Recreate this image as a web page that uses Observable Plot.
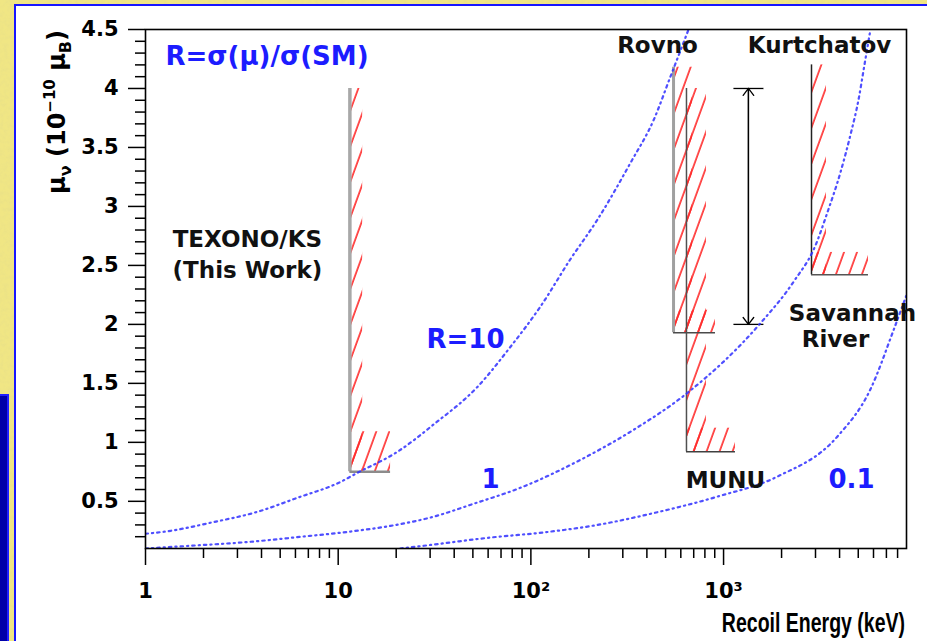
<!DOCTYPE html>
<html>
<head>
<meta charset="utf-8">
<script src="https://cdn.jsdelivr.net/npm/d3@7"></script>
<script src="https://cdn.jsdelivr.net/npm/@observablehq/plot@0.6"></script>
<style>
html, body { margin: 0; padding: 0; width: 927px; height: 641px; overflow: hidden; }
body {
  position: relative;
  background-color: #f0e684;
  background-image: url("data:image/svg+xml;utf8,<svg xmlns='http://www.w3.org/2000/svg' width='240' height='240'><filter id='n'><feTurbulence type='fractalNoise' baseFrequency='0.25' numOctaves='3' seed='4'/><feColorMatrix values='0 0 0 0 0.78  0 0 0 0 0.72  0 0 0 0 0.25  0 0 0 0.9 -0.35'/></filter><rect width='100%' height='100%' filter='url(%23n)'/></svg>");
}
#panel { position: absolute; left: 14px; top: 4px; width: 960px; height: 680px; background: #ffffff;
  border-left: 2px solid #1616ff; border-top: 2px solid #1616ff; }
#bluebox { position: absolute; left: -4px; top: 394px; width: 9px; height: 280px; background: #0000a8;
  border: 2px solid #2020ff; }
#chart { position: absolute; left: 0; top: 0; }
</style>
</head>
<body>
<div id="panel"></div>
<div id="bluebox"></div>
<svg width="0" height="0" style="position:absolute">
  <defs>
    <pattern id="hatch" patternUnits="userSpaceOnUse" width="12.2" height="12" patternTransform="rotate(20)">
      <line x1="1" y1="-1" x2="1" y2="13" stroke="#ff2a2a" stroke-width="1.6"/>
    </pattern>
  </defs>
</svg>
<div id="chart"></div>
<script>
// ---- Axis ticks ----
const xMajor = [1, 10, 100, 1000];
const xTickLabels = ["1", "10", "10²", "10³"];
const xMinor = [2, 3, 4, 5, 6, 7, 8, 9, 20, 30, 40, 50, 60, 70, 80, 90,
  200, 300, 400, 500, 600, 700, 800, 900, 2000, 3000, 4000, 5000, 6000, 7000, 8000];
const yMajor = [0.5, 1, 1.5, 2, 2.5, 3, 3.5, 4, 4.5];
const yTickLabels = ["0.5", "1", "1.5", "2", "2.5", "3", "3.5", "4", "4.5"];
const yMinor = [0.2, 0.3, 0.4, 0.6, 0.7, 0.8, 0.9, 1.1, 1.2, 1.3, 1.4, 1.6, 1.7, 1.8, 1.9,
  2.1, 2.2, 2.3, 2.4, 2.6, 2.7, 2.8, 2.9, 3.1, 3.2, 3.3, 3.4, 3.6, 3.7, 3.8, 3.9, 4.1, 4.2, 4.3, 4.4];

// ---- R = sigma(mu)/sigma(SM) iso-curves (recoil energy keV, mu in 1e-10 muB) ----
const r10Energy = [1, 1.35, 2.17, 3.81, 6.15, 10.3, 12.6, 20.3, 31.2, 52.8, 78.4, 112, 160, 222, 329, 433, 530, 658];
const r10Mu     = [0.225, 0.25, 0.318, 0.411, 0.53, 0.665, 0.742, 0.92, 1.15, 1.47, 1.81, 2.15, 2.55, 2.89, 3.37, 3.73, 4.10, 4.5];
const r1Energy  = [1, 1.71, 3.51, 6.37, 11.2, 18.7, 31.2, 50.4, 88.3, 181, 341, 650, 1554, 2306, 3000, 3460, 4045, 4560, 5010, 5385, 5785];
const r1Mu      = [0.1, 0.123, 0.157, 0.199, 0.241, 0.292, 0.369, 0.479, 0.615, 0.852, 1.106, 1.42, 2.01, 2.36, 2.67, 2.95, 3.29, 3.61, 3.90, 4.20, 4.50];
const r01Energy = [21, 30.1, 59.5, 122, 222, 433, 930, 1905, 3900, 5785, 7620, 9000];
const r01Mu     = [0.1, 0.13, 0.19, 0.24, 0.30, 0.40, 0.54, 0.71, 1.05, 1.45, 1.95, 2.27];

// ---- Experimental limits ----
const limitNames   = ["TEXONO/KS", "Rovno", "MUNU", "Kurtchatov"];
const limitELow    = [11.5, 550, 642, 2860];
const limitEHigh   = [18.7, 908, 1153, 5650];
const limitMuLow   = [0.75, 1.93, 0.92, 2.42];
const limitMuHigh  = [4.0, 4.18, 4.0, 4.2];
const hatchERight  = [13.4, 690, 815, 3420];
const hatchMuTop   = [1.09, 2.12, 1.12, 2.61];

// Savannah River range
const srEnergy = [1346];
const srMuLow = [2.0];
const srMuHigh = [4.0];
const srCapELow = [1125];
const srCapEHigh = [1610];

// ---- Labels ----
const labelText = ["Rovno", "Kurtchatov", "TEXONO/KS", "(This Work)", "Savannah", "River", "MUNU"];
const labelE    = [454, 3147, 3.38, 3.38, 4667, 3808, 1023];
const labelMu   = [4.36, 4.36, 2.716, 2.453, 2.094, 1.868, 0.674];
const rLabelText = ["R=10", "1", "0.1"];
const rLabelE    = [45.8, 61.7, 4612];
const rLabelMu   = [1.87, 0.68, 0.68];
const titleText = ["R=σ(μ)/σ(SM)"];
const titleE = [1.27];
const titleMu = [4.27];

// ---- Build tables ----
const curve = (E, M) => E.map((e, i) => ({E: e, mu: M[i]}));
const hatchRects = limitNames.flatMap((n, i) => [
  {x1: limitELow[i], x2: hatchERight[i], y1: limitMuLow[i], y2: limitMuHigh[i]},
  {x1: limitELow[i], x2: limitEHigh[i], y1: limitMuLow[i], y2: hatchMuTop[i]}
]);
const lineStyle = {
  "TEXONO/KS":  {v: "#a8a8a8", vw: 3.5, h: "#8c8c8c", hw: 2.5},
  "Rovno":      {v: "#a0a0a0", vw: 3,   h: "#4a4a4a", hw: 1.5},
  "MUNU":       {v: "#505050", vw: 1.5, h: "#404040", hw: 1.5},
  "Kurtchatov": {v: "#222222", vw: 1.5, h: "#555555", hw: 1.5}
};
const limitMarks = limitNames.flatMap((n, i) => {
  const s = lineStyle[n];
  return [
    Plot.ruleX([limitELow[i]], {y1: limitMuLow[i], y2: limitMuHigh[i], stroke: s.v, strokeWidth: s.vw}),
    Plot.ruleY([limitMuLow[i]], {x1: limitELow[i], x2: limitEHigh[i], stroke: s.h, strokeWidth: s.hw})
  ];
});
const sr = srEnergy.map((e, i) => ({E: e, lo: srMuLow[i], hi: srMuHigh[i], c1: srCapELow[i], c2: srCapEHigh[i]}));

const curveStyle = {stroke: "#3030ff", strokeWidth: 2.2, strokeDasharray: "2.5,4,1.2,4", curve: "monotone-x", clip: true, strokeOpacity: 0.85};
const FONT = "DejaVu Sans, Verdana, sans-serif";
const FONT2 = "Liberation Sans, Arial, Helvetica, sans-serif";

const svg = Plot.plot({
  width: 927,
  height: 641,
  marginLeft: 145,
  marginRight: 21,
  marginTop: 29,
  marginBottom: 93,
  style: {background: "transparent", fontFamily: FONT, overflow: "visible"},
  x: {type: "log", domain: [1, 8900]},
  y: {domain: [0.1, 4.5]},
  marks: [
    Plot.rect(hatchRects, {x1: "x1", x2: "x2", y1: "y1", y2: "y2", fill: "url(#hatch)"}),
    ...limitMarks,
    Plot.arrow(sr, {x1: "E", x2: "E", y1: "lo", y2: "hi", stroke: "black", strokeWidth: 1.3, headLength: 10, headAngle: 75}),
    Plot.arrow(sr, {x1: "E", x2: "E", y1: "hi", y2: "lo", stroke: "black", strokeWidth: 1.3, headLength: 10, headAngle: 75}),
    Plot.link(sr, {x1: "c1", x2: "c2", y1: "hi", y2: "hi", stroke: "black", strokeWidth: 1.3}),
    Plot.link(sr, {x1: "c1", x2: "c2", y1: "lo", y2: "lo", stroke: "black", strokeWidth: 1.3}),
    Plot.line(curve(r10Energy, r10Mu), {x: "E", y: "mu", ...curveStyle}),
    Plot.line(curve(r1Energy, r1Mu), {x: "E", y: "mu", ...curveStyle}),
    Plot.line(curve(r01Energy, r01Mu), {x: "E", y: "mu", ...curveStyle}),
    Plot.frame({stroke: "black", strokeWidth: 1.6}),
    Plot.axisY({ticks: yMajor, tickSize: 17, tickPadding: 10, strokeWidth: 1.5, fontSize: 21, fontWeight: "bold",
      tickFormat: (d) => yTickLabels[yMajor.indexOf(d)], label: null}),
    Plot.axisY({ticks: yMinor, tickSize: 10, strokeWidth: 1.5, text: null, label: null}),
    Plot.axisX({ticks: xMajor, tickSize: 17, tickPadding: 18, strokeWidth: 1.5, fontSize: 21, fontWeight: "bold",
      tickFormat: (d) => xTickLabels[xMajor.indexOf(d)], label: null}),
    Plot.axisX({ticks: xMinor, tickSize: 10, strokeWidth: 1.5, text: null, label: null}),
    Plot.text(labelText, {x: (d, i) => labelE[i], y: (d, i) => labelMu[i], text: (d) => d,
      fontSize: 23, fontWeight: "bold", fill: "#111"}),
    Plot.text(rLabelText, {x: (d, i) => rLabelE[i], y: (d, i) => rLabelMu[i], text: (d) => d,
      fontSize: 26, fontWeight: "bold", fill: "#1c1cff"}),
    Plot.text(titleText, {x: (d, i) => titleE[i], y: (d, i) => titleMu[i], text: (d) => d,
      textAnchor: "start", fontSize: 26, fontWeight: "bold", fill: "#1c1cff"})
  ]
});

const sel = d3.select(svg);
const yt = sel.append("text")
  .attr("transform", "translate(65,30) rotate(-90)")
  .attr("text-anchor", "end")
  .attr("font-family", FONT)
  .attr("font-size", 24)
  .attr("font-weight", "bold")
  .attr("fill", "black");
yt.append("tspan").text("μ");
yt.append("tspan").attr("dy", 6).attr("font-size", 16).text("ν");
yt.append("tspan").attr("dy", -6).text(" (10");
yt.append("tspan").attr("dy", -10).attr("font-size", 15).text("−10");
yt.append("tspan").attr("dy", 10).text(" μ");
yt.append("tspan").attr("dy", 6).attr("font-size", 16).text("B");
yt.append("tspan").attr("dy", -6).text(")");

sel.append("text")
  .attr("transform", "translate(905,632) scale(1,1.4)")
  .attr("text-anchor", "end")
  .attr("font-family", FONT2)
  .attr("font-size", 19.5)
  .attr("font-weight", "bold")
  .attr("fill", "black")
  .text("Recoil Energy (keV)");

document.getElementById("chart").appendChild(svg);
</script>
</body>
</html>
